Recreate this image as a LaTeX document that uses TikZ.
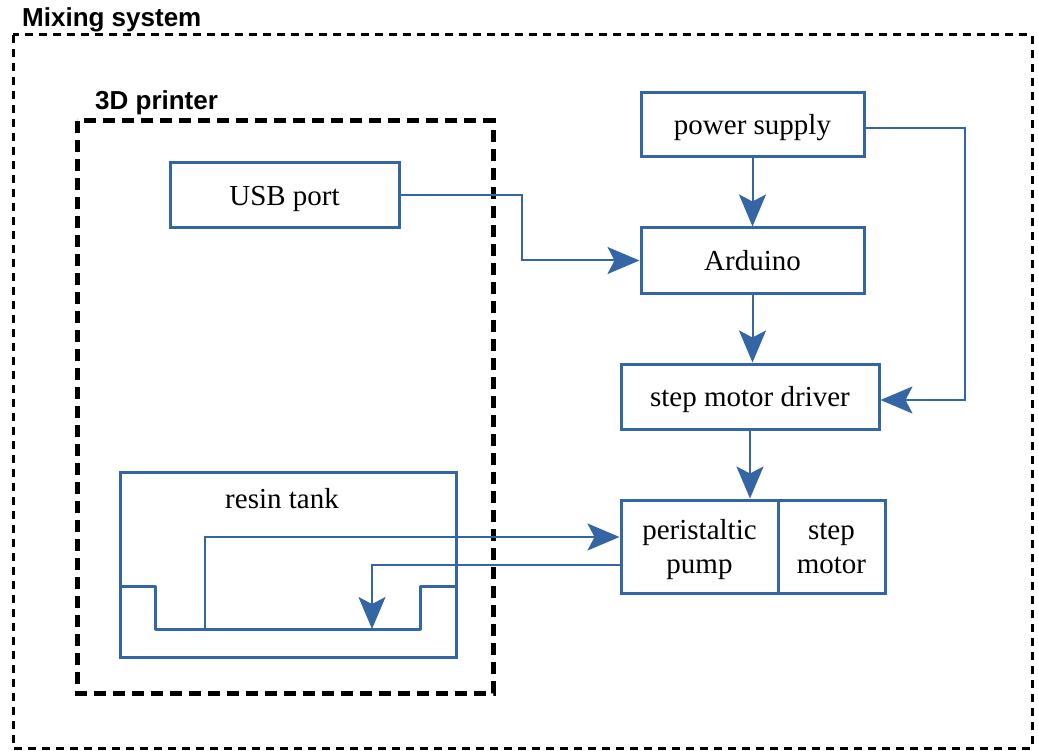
\documentclass[tikz,border=0pt]{standalone}
\usepackage{fontspec}
\setmainfont{Liberation Serif}
\newfontfamily\labfont{Liberation Sans}
\usetikzlibrary{arrows.meta}
\definecolor{boxblue}{RGB}{52,101,164}
\tikzset{
  blk/.style={draw=boxblue, line width=3pt, rectangle, inner sep=0pt, font=\fontsize{29}{34}\selectfont, align=center, text height=20pt, text depth=0pt},
  twoline/.style={text height=54pt},
  conn/.style={draw=boxblue, line width=2pt, -{Stealth[length=32pt,width=27pt,inset=7pt]}},
  grp/.style={font=\labfont\bfseries\fontsize{26}{30}\selectfont, anchor=base west, inner sep=0pt},
}
\begin{document}
\begin{tikzpicture}[x=1pt,y=-1pt]
\useasboundingbox (0,0) rectangle (1038,751);
% groups
\draw[line width=3pt, dash pattern=on 8pt off 6pt] (13,35) rectangle (1032,748);
\node[grp] (mixlbl) at (22,27) {Mixing system};
\draw[line width=5pt, dash pattern=on 12pt off 7pt] (77,121) rectangle (493,693);
\node[grp] (prlbl) at (95,110) {3D printer};
% blocks
\node[blk, minimum width=229pt, minimum height=65pt] (usb) at (284.5,195.5) {USB port};
\node[blk, minimum width=223pt, minimum height=64pt] (ps) at (752.5,125) {power supply};
\node[blk, minimum width=223pt, minimum height=65pt] (ard) at (752.5,260.5) {Arduino};
\node[blk, minimum width=258pt, minimum height=65pt] (drv) at (750,396.5) {step motor driver};
\node[blk, twoline, minimum width=157pt, minimum height=93pt] (pump) at (699.5,546.5) {peristaltic\\pump};
\node[blk, twoline, minimum width=107pt, minimum height=93pt] (mot) at (831.5,546.5) {step\\motor};
% resin tank
\node[blk, minimum width=336pt, minimum height=185pt] (tank) at (288,564.5) {};
\node[font=\fontsize{29}{34}\selectfont, inner sep=0pt, anchor=base] (tanklbl) at (282,508) {resin tank};
\draw[draw=boxblue, line width=3pt, line join=round] (tank.west |- 0,586) -- (155,586) -- (155,629) -- (420,629) -- (420,586) -- (tank.east |- 0,586);
\coordinate (out) at (205,629);
\coordinate (ret) at (372,629);
% connectors
\draw[conn] (usb.east) -- ++(121,0) |- (ard.west);
\draw[conn] (ps.south) -- (ard.north);
\draw[conn] (ard.south) -- (ard.south |- drv.north);
\draw[conn] (750,429) -- (pump.north -| 750,0);
\draw[conn] (ps.east |- 0,128) -- (965,128) |- (drv.east |- 0,400);
\draw[conn] (out) |- (pump.west |- 0,537);
\draw[conn] (pump.west |- 0,565) -| (ret);
\end{tikzpicture}
\end{document}
